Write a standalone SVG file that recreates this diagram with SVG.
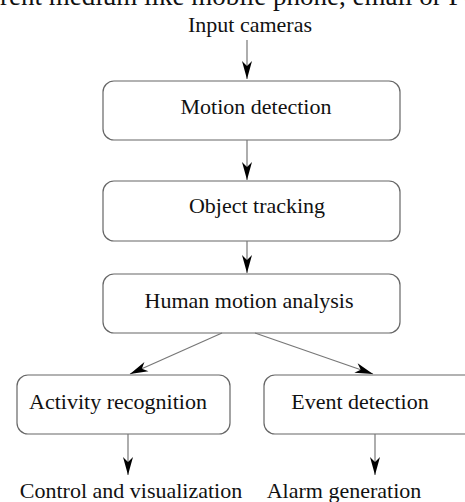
<svg xmlns="http://www.w3.org/2000/svg" width="465" height="502" viewBox="0 0 465 502">
<style>
.box{fill:#fff;stroke:#666;stroke-width:1.2}
.lbl{font-family:"Liberation Serif","Times New Roman",serif;font-size:22px;fill:#111;text-anchor:middle}
.con{stroke:#777;stroke-width:1.2;fill:none;marker-end:url(#ah)}
</style>
<defs>
<marker id="ah" markerWidth="20" markerHeight="12" viewBox="-20 -6 20 12" refX="0" refY="0" orient="auto" markerUnits="userSpaceOnUse">
<path d="M0,0 L-18,-5 L-13,0 L-18,5 Z" fill="#000"/>
</marker>
</defs>
<rect width="465" height="502" fill="#fff"/>
<text x="0" y="5" style="font-family:'Liberation Serif','Times New Roman',serif;font-size:27px;fill:#111">rent medium like mobile phone, email or PC</text>
<g id="input"><text class="lbl" x="250" y="32">Input cameras</text></g>
<g id="motion"><rect class="box" x="103" y="81" width="297" height="59" rx="11"/><text class="lbl" x="256" y="114">Motion detection</text></g>
<g id="tracking"><rect class="box" x="103" y="181" width="297" height="60" rx="11"/><text class="lbl" x="257" y="213">Object tracking</text></g>
<g id="human"><rect class="box" x="103" y="274" width="297" height="59" rx="11"/><text class="lbl" x="249" y="308">Human motion analysis</text></g>
<g id="activity"><rect class="box" x="17" y="375" width="213" height="59" rx="11"/><text class="lbl" x="118" y="409">Activity recognition</text></g>
<g id="event"><rect class="box" x="264" y="375" width="215" height="59" rx="11"/><text class="lbl" x="360" y="409">Event detection</text></g>
<g id="control"><text class="lbl" x="131" y="498">Control and visualization</text></g>
<g id="alarm"><text class="lbl" x="344" y="498">Alarm generation</text></g>
<g id="connectors">
<line class="con" x1="247" y1="40" x2="247" y2="79"/>
<line class="con" x1="247" y1="140" x2="247" y2="180"/>
<line class="con" x1="247" y1="241" x2="247" y2="273"/>
<line class="con" x1="222" y1="333" x2="130" y2="374"/>
<line class="con" x1="255" y1="333" x2="373" y2="374"/>
<line class="con" x1="128" y1="434" x2="128" y2="475"/>
<line class="con" x1="375" y1="434" x2="375" y2="475"/>
</g>
</svg>
